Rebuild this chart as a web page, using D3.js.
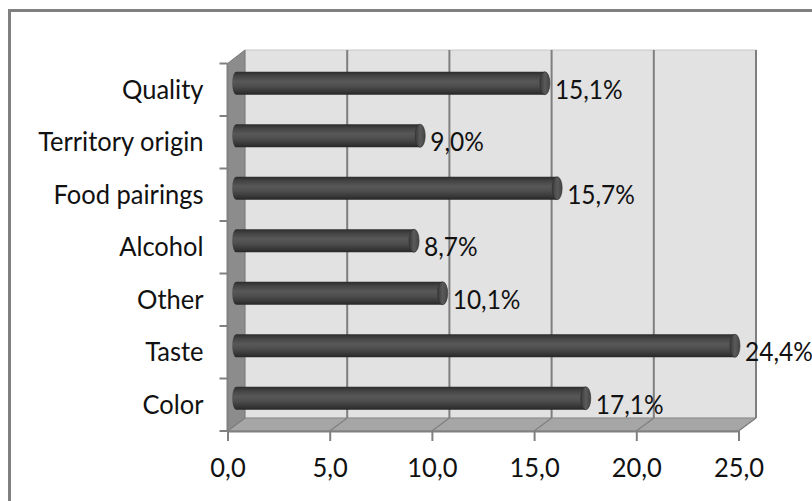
<!DOCTYPE html>
<html>
<head>
<meta charset="utf-8">
<script src="https://cdn.jsdelivr.net/npm/d3@7/dist/d3.min.js"></script>
<style>
  html, body { margin: 0; padding: 0; background: #ffffff; }
  svg { display: block; }
  text { font-family: Lato, "Open Sans", sans-serif; fill: #111111; }
</style>
</head>
<body>
<svg id="chart" width="812" height="501"></svg>
<script>
// Reasons cited, share of responses (%)
const categories = ["Quality", "Territory origin", "Food pairings", "Alcohol", "Other", "Taste", "Color"];
const values = [15.1, 9.0, 15.7, 8.7, 10.1, 24.4, 17.1];
const xTicks = [0, 5, 10, 15, 20, 25];

(function () {
const svg = d3.select("#chart");
const W = 812, H = 501;

// front plane of the 3-D box and its depth offset
const pLeft = 227.5, pRight = 738.5, pTop = 63.5, pBottom = 431;
const depthX = 17.5, depthY = -13;

const x = d3.scaleLinear().domain([0, 25]).range([pLeft, pRight]);
const y = d3.scaleBand().domain(categories).range([pTop, pBottom]);

const comma = v => d3.format(".1f")(v).replace(".", ",");
const TEXT_SIZE = 25.5, TEXT_STRETCH = 1.09;
const LABEL_SIZE = 24.5, LABEL_STRETCH = 1.13;

// outer chart border
svg.append("rect")
  .attr("x", 9.5).attr("y", 10.5)
  .attr("width", W + 20).attr("height", H + 20)
  .attr("fill", "#ffffff").attr("stroke", "#808080").attr("stroke-width", 3);

const defs = svg.append("defs");
const body = defs.append("linearGradient").attr("id", "cyl").attr("x1", 0).attr("y1", 0).attr("x2", 0).attr("y2", 1);
[[0, "#2c2c2c"], [0.18, "#444444"], [0.42, "#585858"], [0.62, "#4e4e4e"], [0.85, "#383838"], [1, "#262626"]]
  .forEach(([o, c]) => body.append("stop").attr("offset", o).attr("stop-color", c));
const cap = defs.append("linearGradient").attr("id", "cap").attr("x1", 0).attr("y1", 0).attr("x2", 1).attr("y2", 0);
[[0, "#3a3a3a"], [0.5, "#5a5a5a"], [1, "#444444"]]
  .forEach(([o, c]) => cap.append("stop").attr("offset", o).attr("stop-color", c));

const bx0 = pLeft + depthX, by0 = pTop + depthY - 0.5, by1 = pBottom + depthY;

// back wall
svg.append("rect")
  .attr("x", bx0).attr("y", by0)
  .attr("width", pRight - pLeft).attr("height", by1 - by0)
  .attr("fill", "#e2e2e2").attr("stroke", "#c8c8c8").attr("stroke-width", 1);

// side wall
svg.append("path")
  .attr("d", `M${pLeft},${pTop} L${bx0},${by0} L${bx0},${by1} L${pLeft},${pBottom} Z`)
  .attr("fill", "#8c8c8c").attr("stroke", "#7a7a7a").attr("stroke-width", 1);

// floor
svg.append("path")
  .attr("d", `M${pLeft},${pBottom} L${pRight},${pBottom} L${pRight + depthX},${by1} L${bx0},${by1} Z`)
  .attr("fill", "#a6a6a6").attr("stroke", "#8a8a8a").attr("stroke-width", 1);

// gridlines on the back wall and across the floor
const grid = svg.append("g");
xTicks.filter(t => t > 0).forEach(t => {
  grid.append("line")
    .attr("x1", x(t) + depthX).attr("x2", x(t) + depthX)
    .attr("y1", by0).attr("y2", by1)
    .attr("stroke", "#7f7f7f").attr("stroke-width", 2);
});
xTicks.forEach(t => {
  grid.append("line")
    .attr("x1", x(t)).attr("y1", pBottom)
    .attr("x2", x(t) + depthX).attr("y2", by1)
    .attr("stroke", "#7f7f7f").attr("stroke-width", 1.2);
});

// x axis
const xAxis = svg.append("g")
  .attr("transform", `translate(0,${pBottom})`)
  .call(d3.axisBottom(x).tickValues(xTicks).tickFormat(comma).tickSize(10).tickPadding(14));
xAxis.select(".domain").attr("stroke", "#808080").attr("stroke-width", 2);
xAxis.selectAll(".tick line").attr("stroke", "#808080").attr("stroke-width", 2);
xAxis.selectAll(".tick text")
  .attr("font-size", TEXT_SIZE).attr("fill", "#111111")
  .attr("transform", `scale(1,${TEXT_STRETCH})`);

// y axis: labels at band centres, ticks on band edges
const yAxis = svg.append("g")
  .attr("transform", `translate(${pLeft},0)`)
  .call(d3.axisLeft(y).tickSize(0).tickPadding(24));
yAxis.select(".domain").remove();
yAxis.selectAll(".tick text")
  .attr("font-size", TEXT_SIZE).attr("fill", "#111111")
  .attr("transform", `scale(1,${TEXT_STRETCH})`);
svg.append("line")
  .attr("x1", pLeft).attr("x2", pLeft).attr("y1", pTop).attr("y2", pBottom)
  .attr("stroke", "#808080").attr("stroke-width", 2);
const edges = categories.map(c => y(c)).concat([pBottom]);
svg.append("g").selectAll("line").data(edges).join("line")
  .attr("x1", pLeft - 8).attr("x2", pLeft)
  .attr("y1", d => d).attr("y2", d => d)
  .attr("stroke", "#808080").attr("stroke-width", 2);

// cylinders sit half-way into the depth
const barH = 23, capRx = 5;
const bars = svg.append("g").selectAll("g").data(categories.map((c, i) => ({ c, v: values[i] }))).join("g")
  .attr("transform", d => `translate(0,${y(d.c) + y.bandwidth() / 2 + depthY / 2})`);

bars.append("path")
  .attr("d", d => {
    const x0 = x(0) + depthX / 2, x1 = x(d.v) + depthX / 2;
    const r = barH / 2;
    return `M${x1},${-r} L${x0},${-r} A${capRx - 1},${r} 0 0 0 ${x0},${r} L${x1},${r} Z`;
  })
  .attr("fill", "url(#cyl)");
bars.append("ellipse")
  .attr("cx", d => x(d.v) + depthX / 2).attr("cy", 0)
  .attr("rx", capRx).attr("ry", barH / 2)
  .attr("fill", "url(#cap)").attr("stroke", "#2e2e2e").attr("stroke-width", 0.6);

// value labels
bars.append("text")
  .attr("x", d => x(d.v) + depthX / 2 + 10)
  .attr("y", 0)
  .attr("transform", `translate(0,${-depthY / 2}) scale(1,${LABEL_STRETCH})`)
  .attr("dy", "0.32em")
  .attr("font-size", LABEL_SIZE)
  .text(d => comma(d.v) + "%");
})();
</script>
</body>
</html>
